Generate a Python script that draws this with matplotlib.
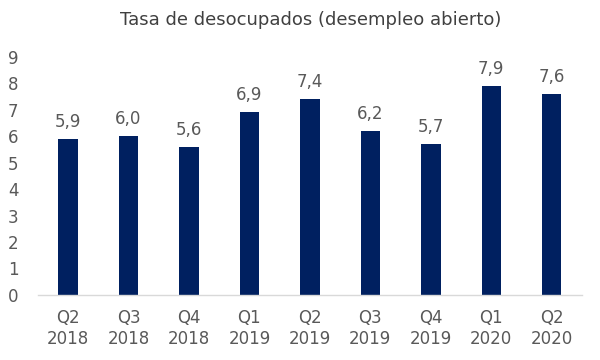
import matplotlib
matplotlib.use('agg')
import matplotlib.pyplot as plt
import numpy as np

quarters = ['Q2\n2018', 'Q3\n2018', 'Q4\n2018', 'Q1\n2019', 'Q2\n2019',
            'Q3\n2019', 'Q4\n2019', 'Q1\n2020', 'Q2\n2020']
tasa = [5.9, 6.0, 5.6, 6.9, 7.4, 6.2, 5.7, 7.9, 7.6]
yticks = [0, 1, 2, 3, 4, 5, 6, 7, 8, 9]

plt.rcParams['font.family'] = ['DejaVu Sans']
gray = '#595959'

fig = plt.figure(figsize=(6, 3.6), dpi=100)
ax = fig.add_axes([0.063, 0.181, 0.907, 0.661])
x = np.arange(len(tasa))
ax.bar(x, tasa, width=0.32, color='#002060')
for xi, v in zip(x, tasa):
    ax.text(xi, v + 0.3, ('%.1f' % v).replace('.', ','), ha='center', va='bottom',
            fontsize=12, color=gray)

ax.set_xlim(-0.5, len(tasa) - 0.5)
ax.set_ylim(0, 9)
ax.set_yticks(yticks)
ax.set_xticks(x)
ax.set_xticklabels(quarters, linespacing=1.2)
ax.tick_params(axis='both', length=0, labelsize=12, labelcolor=gray)
ax.tick_params(axis='y', pad=14)
ax.tick_params(axis='x', pad=10)
for s in ['top', 'right', 'left']:
    ax.spines[s].set_visible(False)
ax.spines['bottom'].set_color('#d9d9d9')
ax.spines['bottom'].set_linewidth(1)

fig.text(0.517, 0.945, 'Tasa de desocupados (desempleo abierto)', ha='center', va='center',
         fontsize=13, color='#404040')

fig.savefig('out.png', dpi=100)
